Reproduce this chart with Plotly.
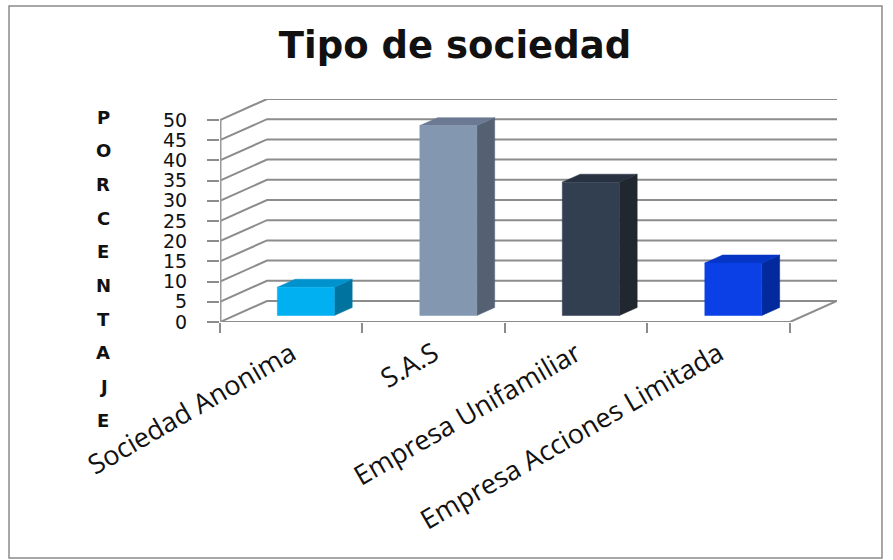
import plotly.graph_objects as go

# Datos
categorias = ["Sociedad Anonima", "S.A.S", "Empresa Unifamiliar", "Empresa Acciones Limitada"]
porcentajes = [7, 47, 33, 13]
ticks_y = [0, 5, 10, 15, 20, 25, 30, 35, 40, 45, 50]
titulo_eje = "PORCENTAJE"

# Estilo de cada columna (cara frontal, lateral y superior)
color_frente = ["#00B0F0", "#8497B0", "#323F50", "#0A40E6"]
color_lado = ["#00739E", "#556073", "#20272F", "#032A9C"]
color_tapa = ["#0092CC", "#6B7A92", "#283140", "#0634C4"]

# Proyección oblicua: profundidad expresada en unidades de los ejes
DX = 0.33   # desplazamiento horizontal de la pared trasera (categorías)
DY = 5.2    # desplazamiento vertical de la pared trasera (porcentaje)
D1, D2 = 0.31, 0.69   # profundidad ocupada por cada columna
ANCHO = 0.40
N = len(categorias)
YMAX = ticks_y[-1]
GRIS = "#8C8C8C"


def proy(c, v, d):
    return c + d * DX, v + d * DY


fig = go.Figure()

# Rejilla: pared lateral y pared trasera
gx, gy = [], []
for v in ticks_y:
    a = proy(0, v, 0)
    b = proy(0, v, 1)
    c = proy(N, v, 1)
    gx += [a[0], b[0], c[0], None]
    gy += [a[1], b[1], c[1], None]
# borde del suelo
for p, q in [((0, 0, 0), (N, 0, 0)), ((N, 0, 0), (N, 0, 1))]:
    a, b = proy(*p), proy(*q)
    gx += [a[0], b[0], None]
    gy += [a[1], b[1], None]
fig.add_trace(go.Scatter(x=gx, y=gy, mode="lines", line=dict(color=GRIS, width=2),
                         hoverinfo="skip", showlegend=False, cliponaxis=False))

# Eje vertical frontal
fig.add_trace(go.Scatter(x=[0, 0], y=[0, YMAX], mode="lines", line=dict(color="#9A9A9A", width=3),
                         hoverinfo="skip", showlegend=False, cliponaxis=False))


def cara(puntos, color):
    xs = [p[0] for p in puntos] + [puntos[0][0]]
    ys = [p[1] for p in puntos] + [puntos[0][1]]
    fig.add_trace(go.Scatter(x=xs, y=ys, mode="lines", fill="toself", fillcolor=color,
                             line=dict(color=color, width=0.5), hoverinfo="skip",
                             showlegend=False, cliponaxis=False))


# Columnas
for i, v in enumerate(porcentajes):
    x0 = i + 0.5 - ANCHO / 2
    x1 = i + 0.5 + ANCHO / 2
    cara([proy(x1, 0, D1), proy(x1, 0, D2), proy(x1, v, D2), proy(x1, v, D1)], color_lado[i])
    cara([proy(x0, v, D1), proy(x1, v, D1), proy(x1, v, D2), proy(x0, v, D2)], color_tapa[i])
    cara([proy(x0, 0, D1), proy(x1, 0, D1), proy(x1, v, D1), proy(x0, v, D1)], color_frente[i])

# Conversión de píxeles a coordenadas "paper" para textos y marco
L, R, T, B = 220, 56, 99, 238
W, H = 893, 560
PW, PH = W - L - R, H - T - B


def px_x(px):
    return (px - L) / PW


def px_y(py):
    return (H - B - py) / PH


anotaciones = []
y0_letra, paso = 117, 33.67
for k, letra in enumerate(titulo_eje):
    anotaciones.append(dict(text="<b>%s</b>" % letra, x=px_x(103), y=px_y(y0_letra + k * paso),
                            xref="paper", yref="paper", showarrow=False,
                            xanchor="center", yanchor="middle",
                            font=dict(family="DejaVu Sans", size=18, color="#111111")))

fig.update_layout(
    width=W, height=H,
    margin=dict(l=L, r=R, t=T, b=B),
    paper_bgcolor="white", plot_bgcolor="white",
    title=dict(text="<b>Tipo de sociedad</b>", x=455 / W, xref="container", xanchor="center",
               y=1 - 45 / H, yref="container", yanchor="middle",
               font=dict(family="DejaVu Sans", size=37, color="#111111")),
    xaxis=dict(range=[0, N + DX], showgrid=False, zeroline=False, showline=False,
               tickvals=[i + 0.5 for i in range(N)], ticktext=categorias,
               ticks="", tickangle=-30, ticklabelstandoff=10,
               tickfont=dict(family="Open Sans", size=27, color="#111111"),
               minor=dict(tickvals=list(range(N + 1)), ticks="outside", ticklen=10,
                          tickwidth=2, tickcolor=GRIS, showgrid=False)),
    yaxis=dict(range=[0, YMAX + DY], showgrid=False, zeroline=False, showline=False,
               tickvals=ticks_y, ticks="outside", ticklen=12, tickwidth=2, tickcolor=GRIS,
               ticklabelstandoff=16,
               tickfont=dict(family="DejaVu Sans", size=19, color="#111111")),
    annotations=anotaciones,
    shapes=[dict(type="rect", xref="paper", yref="paper",
                 x0=px_x(9), x1=px_x(882), y0=px_y(558), y1=px_y(6),
                 line=dict(color="#8A8A8A", width=1.5), layer="below")],
)

fig.write_html("out.html")
